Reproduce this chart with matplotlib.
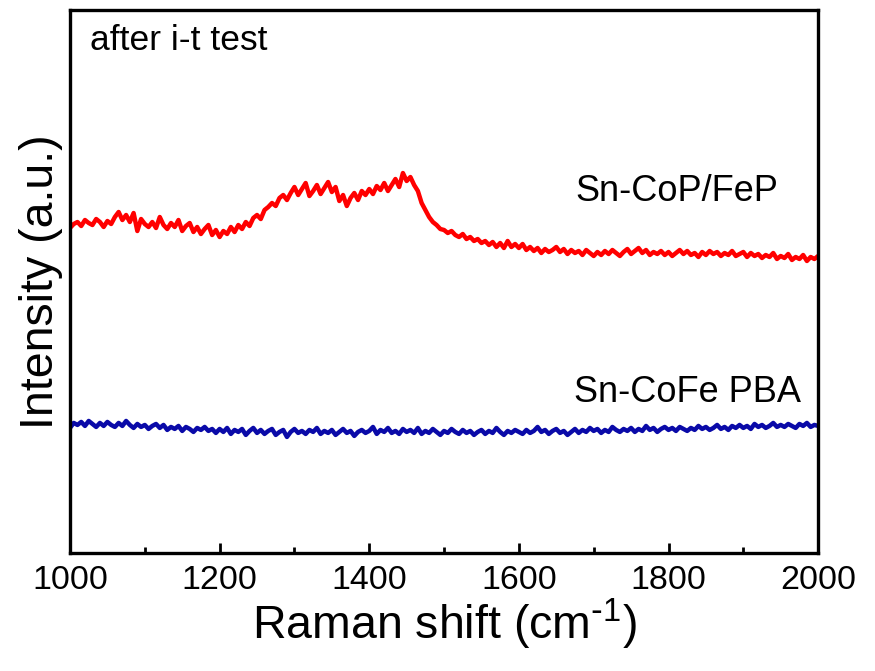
import numpy as np
import matplotlib.pyplot as plt

plt.rcParams["font.family"] = ["Liberation Sans", "DejaVu Sans"]
plt.rcParams["mathtext.default"] = "regular"

# Raman shift grid (cm-1), one reading every 5 cm-1
shift = np.arange(1000, 2001, 5)

# Sn-CoP/FeP (a.u.)
sn_cop_fep = [
    325, 329, 331, 327, 333, 330, 328, 334, 331, 326,
    332, 329, 336, 341, 333, 338, 331, 340, 322, 334,
    329, 326, 331, 325, 336, 328, 324, 330, 326, 333,
    322, 327, 330, 321, 326, 319, 324, 328, 318, 323,
    316, 322, 319, 326, 321, 328, 324, 331, 327, 335,
    338, 334, 343, 346, 350, 347, 355, 358, 353, 360,
    366, 358, 364, 370, 357, 362, 368, 359, 365, 371,
    361, 366, 352, 358, 347, 355, 360, 353, 362, 358,
    364, 359, 367, 363, 370, 362, 368, 374, 366, 380,
    372, 376, 368, 362, 350, 343, 336, 331, 328, 324,
    323, 320, 322, 318, 316, 319, 314, 316, 312, 314,
    310, 312, 308, 311, 306, 310, 305, 312, 306, 309,
    305, 309, 303, 306, 302, 305, 300, 304, 301, 303,
    306, 301, 304, 299, 303, 300, 302, 298, 303, 300,
    297, 301, 298, 302, 299, 303, 300, 297, 301, 304,
    299, 302, 305, 300, 303, 298, 301, 299, 302, 298,
    301, 297, 300, 303, 299, 302, 298, 300, 296, 301,
    298, 302, 299, 301, 297, 300, 298, 302, 297, 299,
    301, 296, 300, 297, 299, 295, 298, 296, 300, 294,
    297, 295, 299, 293, 296, 294, 298, 292, 296, 294,
    297,
]

# Sn-CoFe PBA (a.u.)
sn_cofe_pba = [
    125, 130, 128, 131, 127, 132, 129, 126, 130, 127,
    131, 128, 126, 130, 127, 132, 128, 125, 129, 126,
    128, 124, 127, 129, 125, 128, 123, 126, 124, 127,
    122, 126, 124, 121, 125, 123, 126, 122, 124, 120,
    124, 121, 125, 119, 123, 121, 124, 118, 122, 125,
    120, 123, 119, 122, 124, 118, 121, 123, 116, 121,
    124, 120, 122, 119, 123, 121, 125, 119, 122, 120,
    123, 118, 121, 124, 120, 122, 117, 121, 123, 120,
    122, 126, 119, 123, 121, 125, 120, 122, 119, 124,
    121, 123, 120, 125, 119, 122, 120, 124, 121, 118,
    122, 120, 124, 121, 119, 123, 120, 122, 118, 121,
    123, 119, 122, 120, 125, 121, 118, 122, 120, 123,
    121, 119, 123, 120, 122, 126, 121, 123, 119, 122,
    124, 120, 122, 118, 121, 124, 120, 123, 121, 125,
    122, 124, 120, 123, 121, 126, 123, 121, 124, 122,
    125, 121, 124, 122, 127, 123, 125, 121, 124, 126,
    123, 125, 122, 126, 124, 122, 125, 123, 127, 124,
    126, 123, 125, 128, 124, 126, 123, 127, 125, 128,
    125, 127, 124, 129, 126, 128, 125, 127, 130, 126,
    128, 126, 129, 127, 125, 129, 127, 130, 126, 128,
    127,
]

fig = plt.figure(figsize=(8.75, 6.71), dpi=100)
ax = fig.add_axes([0.08, 0.176, 0.855, 0.809])

ax.plot(shift, sn_cop_fep, color="#ff0000", lw=3.2)
ax.plot(shift, sn_cofe_pba, color="#0a0aa8", lw=3.2)

ax.set_xlim(1000, 2000)
ax.set_ylim(0, 543)
ax.set_xticks(np.arange(1000, 2001, 200))
ax.set_xticks(np.arange(1100, 2000, 200), minor=True)
ax.set_yticks([])
ax.tick_params(axis="x", which="major", direction="in", length=7, width=2,
               labelsize=24.5, pad=9)
ax.tick_params(axis="x", which="minor", direction="in", length=4, width=2)
for sp in ax.spines.values():
    sp.set_linewidth(2.4)

ax.set_xlabel("Raman shift (cm$^{\\text{-}1}$)", fontsize=33.5, labelpad=0)
ax.set_ylabel("Intensity (a.u.)", fontsize=33.5, labelpad=5)

ax.text(0.027, 0.975, "after i-t test", transform=ax.transAxes,
        fontsize=25.5, va="top", ha="left")
ax.text(0.947, 0.665, "Sn-CoP/FeP", transform=ax.transAxes,
        fontsize=26, va="center", ha="right")
ax.text(0.977, 0.295, "Sn-CoFe PBA", transform=ax.transAxes,
        fontsize=26, va="center", ha="right")

fig.savefig("out.png", dpi=100)
